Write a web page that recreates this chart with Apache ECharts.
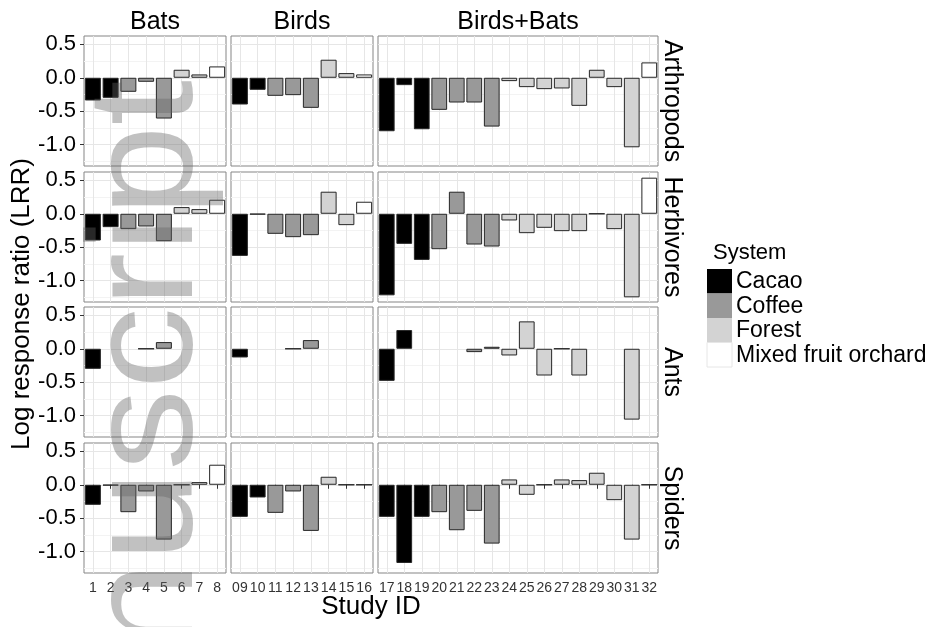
<!DOCTYPE html>
<html>
<head>
<meta charset="utf-8">
<script src="https://cdn.jsdelivr.net/npm/echarts@6/dist/echarts.min.js"></script>
<style>
  html, body { margin: 0; padding: 0; background: #fff; }
  #chart { width: 933px; height: 627px; }
</style>
</head>
<body>
<div id="chart"></div>
<script>
// study ids, one list per facet column
const batsIds = ['1', '2', '3', '4', '5', '6', '7', '8'];
const birdsIds = ['09', '10', '11', '12', '13', '14', '15', '16'];
const bothIds = ['17', '18', '19', '20', '21', '22', '23', '24', '25', '26', '27', '28', '29', '30', '31', '32'];

const groups = ['Bats', 'Birds', 'Birds+Bats'];
const taxa = ['Arthropods', 'Herbivores', 'Ants', 'Spiders'];
const systems = ['Cacao', 'Coffee', 'Forest', 'Mixed fruit orchard'];

// system of each study (index into systems), studies 1..32
const studySystem = [0, 0, 1, 1, 1, 2, 2, 3,
  0, 0, 1, 1, 1, 2, 2, 3,
  0, 0, 0, 1, 1, 1, 1, 2, 2, 2, 2, 2, 2, 2, 2, 3];

// LRR per study 1..32 (null = no data)
const arthropods = [-0.34, -0.30, -0.21, -0.06, -0.61, 0.12, 0.05, 0.17,
  -0.40, -0.18, -0.27, -0.26, -0.45, 0.27, 0.07, 0.05,
  -0.80, -0.11, -0.77, -0.48, -0.37, -0.37, -0.73, -0.05, -0.14, -0.17, -0.16, -0.42, 0.12, -0.14, -1.04, 0.23];
const herbivores = [-0.40, -0.20, -0.23, -0.19, -0.41, 0.10, 0.07, 0.21,
  -0.63, -0.01, -0.30, -0.35, -0.32, 0.33, -0.17, 0.18,
  -1.22, -0.45, -0.69, -0.53, 0.33, -0.46, -0.49, -0.10, -0.29, -0.21, -0.26, -0.26, 0, -0.23, -1.25, 0.54];
const ants = [-0.30, null, null, 0, 0.10, null, null, null,
  -0.13, null, null, 0, 0.13, null, null, null,
  -0.48, 0.28, null, null, null, -0.05, 0.03, -0.10, 0.41, -0.40, 0, -0.40, null, null, -1.06, null];
const spiders = [-0.30, -0.01, -0.41, -0.10, -0.82, 0, 0.04, 0.30,
  -0.48, -0.19, -0.42, -0.10, -0.69, 0.12, 0, 0,
  -0.48, -1.17, -0.48, -0.41, -0.68, -0.39, -0.88, 0.08, -0.15, 0, 0.08, 0.07, 0.18, -0.23, -0.82, 0];

const yTicks = [-1, -0.5, 0, 0.5];
const yMinor = [-1.25, -0.75, -0.25, 0.25];

// layout
const FONT = 'Liberation Sans, Arial, sans-serif';
const colLeft = [84, 231, 378];
const colWidth = [142, 142, 280];
const rowTop = [36, 172, 307, 443];
const rowHeight = 130;
const yMin = -1.32, yMax = 0.625;
const systemColors = ['#000000', '#999999', '#d3d3d3', '#ffffff'];

const rows = [arthropods, herbivores, ants, spiders];
const colIds = [batsIds, birdsIds, bothIds];
const colStart = [0, 8, 16];

let grid = [], xAxis = [], yAxis = [], series = [], graphic = [];

rows.forEach((vals, r) => {
  colIds.forEach((ids, c) => {
    const gi = grid.length;
    const isBottom = r === rows.length - 1;
    const isLeft = c === 0;
    grid.push({
      left: colLeft[c], top: rowTop[r], width: colWidth[c], height: rowHeight,
      show: true, backgroundColor: '#fff', borderColor: '#858585', borderWidth: 1
    });
    xAxis.push({
      type: 'category', gridIndex: gi, data: ids, boundaryGap: true,
      axisLine: { show: false },
      axisTick: { show: isBottom, alignWithLabel: true, interval: 0, length: 4, lineStyle: { color: '#333' } },
      axisLabel: { show: isBottom, interval: 0, margin: 8, fontSize: 14, color: '#333', fontFamily: FONT },
      splitLine: { show: true, alignWithLabel: true, interval: 0, lineStyle: { color: '#e6e6e6', width: 1 } }
    });
    // major y axis (labels, ticks, major grid)
    yAxis.push({
      type: 'value', gridIndex: gi, min: yMin, max: yMax, position: 'left',
      axisLine: { show: false },
      axisTick: { show: isLeft, length: 4, customValues: yTicks, lineStyle: { color: '#333' } },
      axisLabel: {
        show: isLeft, customValues: yTicks, margin: 8, fontSize: 22, color: '#000', fontFamily: FONT,
        formatter: v => v.toFixed(1)
      },
      splitLine: { show: true, lineStyle: { color: '#e6e6e6', width: 1 } }
    });
    // minor grid
    yAxis.push({
      type: 'value', gridIndex: gi, min: yMin, max: yMax, position: 'left',
      axisLine: { show: false },
      axisTick: { show: false, customValues: yMinor },
      axisLabel: { show: false },
      splitLine: { show: true, lineStyle: { color: '#f3f3f3', width: 1 } }
    });
    series.push({
      type: 'bar', xAxisIndex: gi, yAxisIndex: gi * 2, barWidth: '90%',
      silent: true, animation: false,
      itemStyle: { borderColor: '#262626', borderWidth: 1 },
      data: ids.map((id, k) => {
        const i = colStart[c] + k;
        const v = vals[i];
        if (v === null) return null;
        return { value: v, itemStyle: { color: systemColors[studySystem[i]] } };
      })
    });
  });
});

// column strips
groups.forEach((g, c) => {
  graphic.push({
    type: 'text', x: colLeft[c] + colWidth[c] / 2, y: 22,
    style: { text: g, font: '25px ' + FONT, fill: '#000', align: 'center', verticalAlign: 'middle' }
  });
});
// row strips
taxa.forEach((t, r) => {
  graphic.push({
    type: 'text', x: 672, y: rowTop[r] + rowHeight / 2, rotation: -Math.PI / 2,
    style: { text: t, font: '25px ' + FONT, fill: '#000', align: 'center', verticalAlign: 'middle' }
  });
});
// axis titles
graphic.push({
  type: 'text', x: 22, y: 304, rotation: Math.PI / 2,
  style: { text: 'Log response ratio (LRR)', font: '26px ' + FONT, fill: '#000', align: 'center', verticalAlign: 'middle' }
});
graphic.push({
  type: 'text', x: 371, y: 607,
  style: { text: 'Study ID', font: '26px ' + FONT, fill: '#000', align: 'center', verticalAlign: 'middle' }
});
// legend
graphic.push({
  type: 'text', x: 713, y: 253,
  style: { text: 'System', font: '22px ' + FONT, fill: '#000', align: 'left', verticalAlign: 'middle' }
});
systems.forEach((s, i) => {
  graphic.push({
    type: 'rect', shape: { x: 707, y: 269 + i * 24.5, width: 25, height: 24.5 },
    style: { fill: systemColors[i], stroke: i === 3 ? '#e6e6e6' : null, lineWidth: 1 }
  });
  graphic.push({
    type: 'text', x: 736, y: 282 + i * 24.5,
    style: { text: s, font: '23px ' + FONT, fill: '#000', align: 'left', verticalAlign: 'middle' }
  });
});
// manuscript watermark
graphic.push({
  type: 'text', x: 226, y: 80, rotation: Math.PI / 2, scaleX: 1.09, z: 100, silent: true,
  style: { text: 'manuscript', font: '150px ' + FONT, fill: 'rgba(100,100,100,0.4)', align: 'right', verticalAlign: 'bottom' }
});

const chart = echarts.init(document.getElementById('chart'), null, { renderer: 'canvas' });
chart.setOption({
  animation: false,
  backgroundColor: '#fff',
  grid, xAxis, yAxis, series,
  graphic: { elements: graphic }
});
</script>
</body>
</html>
